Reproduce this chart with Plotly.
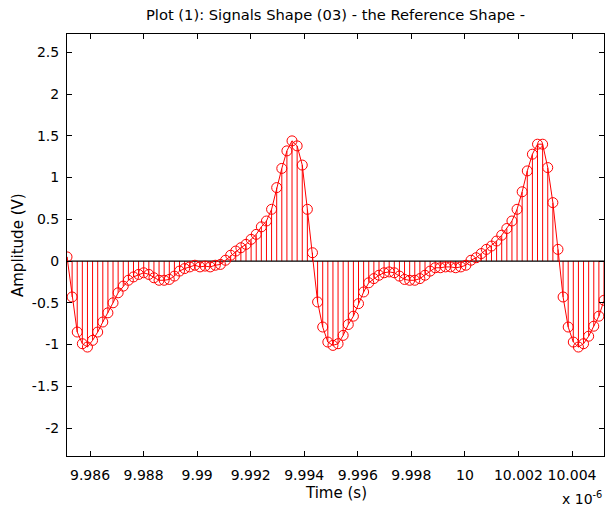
import plotly.graph_objects as go

# Time axis (units of 1e-6 s): uniform sampling grid
t_start = 9.98514
t_step = 0.000191

# Amplitude samples (V)
amplitude = [
    0.05, -0.43, -0.85, -0.99, -1.03, -0.95, -0.85, -0.73, -0.62, -0.50,
    -0.38, -0.30, -0.23, -0.19, -0.16, -0.14, -0.16, -0.20, -0.23, -0.23,
    -0.22, -0.18, -0.12, -0.09, -0.07, -0.05, -0.07, -0.06, -0.07, -0.05,
    -0.04, 0.01, 0.07, 0.12, 0.16, 0.20, 0.26, 0.32, 0.41, 0.48,
    0.62, 0.88, 1.11, 1.32, 1.44, 1.38, 1.15, 0.62, 0.10, -0.49,
    -0.79, -0.97, -1.01, -0.99, -0.89, -0.76, -0.66, -0.51, -0.37, -0.26,
    -0.21, -0.17, -0.14, -0.13, -0.14, -0.18, -0.22, -0.23, -0.23, -0.21,
    -0.17, -0.12, -0.08, -0.08, -0.07, -0.07, -0.08, -0.07, -0.05, 0.01,
    0.04, 0.09, 0.14, 0.18, 0.24, 0.31, 0.39, 0.48, 0.62, 0.83,
    1.08, 1.28, 1.40, 1.40, 1.12, 0.70, 0.14, -0.43, -0.79, -0.97,
    -1.03, -0.99, -0.90, -0.78, -0.66, -0.47,
]
time = [t_start + i * t_step for i in range(len(amplitude))]

x_tick_vals = [9.986, 9.988, 9.990, 9.992, 9.994, 9.996, 9.998, 10.000, 10.002, 10.004]
x_tick_text = ["9.986", "9.988", "9.99", "9.992", "9.994", "9.996", "9.998", "10", "10.002", "10.004"]
y_tick_vals = [-2, -1.5, -1, -0.5, 0, 0.5, 1, 1.5, 2, 2.5]
y_tick_text = ["-2", "-1.5", "-1", "-0.5", "0", "0.5", "1", "1.5", "2", "2.5"]

title_text = "Plot (1): Signals Shape (03) - the Reference Shape -"
x_label = "Time (s)"
y_label = "Amplitude (V)"

RED = "#FF0000"
FONT = "DejaVu Sans, Verdana, sans-serif"

# stems
sx, sy = [], []
for t, v in zip(time, amplitude):
    sx += [t, t, None]
    sy += [0, v, None]

fig = go.Figure()
fig.add_trace(go.Scatter(x=sx, y=sy, mode="lines",
                         line=dict(color=RED, width=1), hoverinfo="skip",
                         showlegend=False))
# baseline
fig.add_trace(go.Scatter(x=[time[0], time[-1]], y=[0, 0], mode="lines",
                         line=dict(color="black", width=1.2), showlegend=False))
fig.add_trace(go.Scatter(x=time, y=amplitude, mode="lines+markers",
                         line=dict(color=RED, width=1),
                         marker=dict(symbol="circle-open", size=10,
                                     color=RED, line=dict(color=RED, width=1)),
                         showlegend=False))

fig.update_layout(
    width=607, height=510,
    margin=dict(l=67, r=3, t=34, b=54),
    paper_bgcolor="white", plot_bgcolor="white",
    font=dict(family=FONT, size=14, color="black"),
    title=dict(text=title_text, xref="paper", x=0.5, xanchor="center",
               y=1 - 15 / 510, yanchor="middle",
               font=dict(family=FONT, size=14.7, color="black")),
    showlegend=False,
    annotations=[
        dict(text=y_label, textangle=-90, xref="paper", yref="paper",
             x=(18 - 67) / 537, y=0.5, xanchor="center", yanchor="middle",
             showarrow=False, font=dict(family=FONT, size=15)),
        dict(text=x_label, xref="paper", yref="paper",
             x=0.5, y=-(493 - 456) / 422, xanchor="center", yanchor="middle",
             showarrow=False, font=dict(family=FONT, size=15)),
        dict(text="x 10<sup>-6</sup>", xref="paper", yref="paper",
             x=1.0, y=-(498 - 456) / 422, xanchor="right", yanchor="middle",
             showarrow=False, font=dict(family=FONT, size=14)),
    ],
)
fig.update_xaxes(range=[time[0], time[-1]], tickvals=x_tick_vals, ticktext=x_tick_text,
                 ticks="inside", ticklen=5, tickcolor="black", showline=True,
                 linecolor="black", linewidth=1, mirror="ticks", showgrid=False,
                 zeroline=False, tickfont=dict(size=14), ticklabelstandoff=6)
fig.update_yaxes(range=[-2.335, 2.72], tickvals=y_tick_vals, ticktext=y_tick_text,
                 ticks="inside", ticklen=5, tickcolor="black", showline=True,
                 linecolor="black", linewidth=1, mirror="ticks", showgrid=False,
                 zeroline=False, tickfont=dict(size=14), ticklabelstandoff=4)

fig.write_html("out.html")
